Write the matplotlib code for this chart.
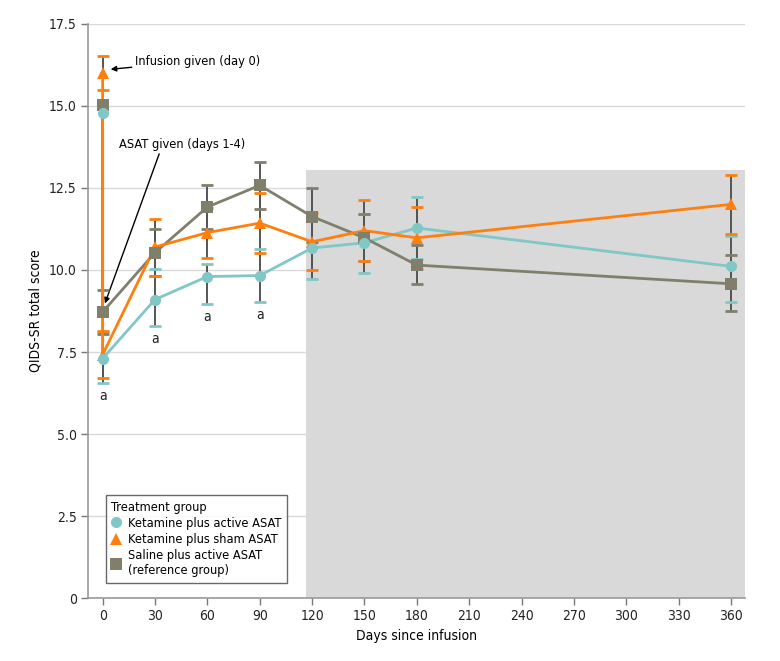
import numpy as np
import matplotlib
matplotlib.use('Agg')
import matplotlib.pyplot as plt

plt.rcParams['font.family'] = ['DejaVu Sans']
plt.rcParams['font.stretch'] = 'condensed'

# Days of assessment (first two points both at day 0: before infusion and after ASAT)
days = [0, 0, 30, 60, 90, 120, 150, 180, 360]

# Ketamine plus active ASAT
teal_mean = [14.8, 7.3, 9.1, 9.8, 9.83, 10.67, 10.83, 11.28, 10.11]
teal_lo = [np.nan, 6.55, 8.29, 8.96, 9.02, 9.74, 9.92, 10.33, 9.03]
teal_hi = [np.nan, 8.1, 10.03, 10.18, 10.64, 11.6, 11.72, 12.23, 11.04]

# Ketamine plus sham ASAT
orange_mean = [16.02, 7.42, 10.7, 11.14, 11.43, 10.86, 11.2, 10.98, 12.0]
orange_lo = [15.49, 6.7, 9.83, 10.38, 10.52, 9.99, 10.26, 10.03, 11.1]
orange_hi = [16.53, 8.14, 11.56, 11.9, 12.34, 11.73, 12.13, 11.93, 12.9]

# Saline plus active ASAT (reference group)
gray_mean = [15.02, 8.72, 10.53, 11.92, 12.58, 11.63, 10.98, 10.15, 9.58]
gray_lo = [np.nan, 8.05, 9.83, 11.26, 11.87, 10.86, 10.26, 9.57, 8.75]
gray_hi = [np.nan, 9.39, 11.24, 12.6, 13.29, 12.51, 11.71, 10.75, 10.45]

sig_idx = [1, 2, 3, 4]  # points marked "a"
shade_start, shade_top = 116.5, 13.05

yticks = [0, 2.5, 5.0, 7.5, 10.0, 12.5, 15.0, 17.5]
ytick_labels = ['0', '2.5', '5.0', '7.5', '10.0', '12.5', '15.0', '17.5']
xticks = list(range(0, 361, 30))

TEAL = '#80c7c5'
ORANGE = '#ff7f0e'
GRAY = '#807f6b'
ERR = '#555555'
FS = 10
FS_TXT = 9.2

fig = plt.figure(figsize=(7.8, 6.61), dpi=100)
ax = fig.add_axes([0.1128, 0.0953, 0.8422, 0.8684])

ax.set_xlim(-8.4, 368)
ax.set_ylim(0, 17.5)

ax.set_axisbelow(True)
ax.yaxis.grid(True, color='#d9d9d9', linewidth=1)
ax.fill_between([shade_start, 368], 0, shade_top, color='#d9d9d9', zorder=1, linewidth=0)

# (values, lo, hi, colour, marker, label, line zorder, marker zorder, marker size)
series = [
    (teal_mean, teal_lo, teal_hi, TEAL, 'o', 'Ketamine plus active ASAT', 4.0, 5.2, 8),
    (gray_mean, gray_lo, gray_hi, GRAY, 's', 'Saline plus active ASAT\n(reference group)', 4.1, 5.1, 8),
    (orange_mean, orange_lo, orange_hi, ORANGE, '^', 'Ketamine plus sham ASAT', 4.2, 5.0, 9),
]

handles = {}
for mean, lo, hi, col, mk, lab, zl, zm, ms in series:
    lo = np.array(lo)
    hi = np.array(hi)
    ok = ~np.isnan(lo)
    dx = np.array(days)[ok]
    ax.vlines(dx, lo[ok], hi[ok], color=ERR, linewidth=1.4, zorder=3)
    ax.plot(dx, lo[ok], linestyle='none', marker='_', markersize=9, markeredgewidth=2, color=col, zorder=3.5)
    ax.plot(dx, hi[ok], linestyle='none', marker='_', markersize=9, markeredgewidth=2, color=col, zorder=3.5)
    ax.plot(days, mean, color=col, linewidth=2, zorder=zl)
    h, = ax.plot(days, mean, linestyle='none', color=col, marker=mk, markersize=ms,
                 markeredgewidth=0, label=lab, zorder=zm)
    handles[lab] = h

for i in sig_idx:
    ax.annotate('a', (days[i], teal_lo[i]), xytext=(0, -4), textcoords='offset points',
                ha='center', va='top', fontsize=FS, color='#222222')

ax.annotate('Infusion given (day 0)', xy=(4.6, 16.12), xytext=(18.3, 16.37),
            fontsize=FS_TXT, va='center', ha='left',
            arrowprops=dict(arrowstyle='-|>', color='black', lw=1, shrinkA=0, shrinkB=0,
                            mutation_scale=8))
ax.annotate('ASAT given (days 1-4)', xy=(1.3, 8.98), xytext=(9.4, 13.84),
            fontsize=FS_TXT, va='center', ha='left')
ax.annotate('', xy=(1.3, 8.98), xytext=(32.4, 13.54),
            arrowprops=dict(arrowstyle='-|>', color='black', lw=1, shrinkA=0, shrinkB=0,
                            mutation_scale=8))

ax.set_yticks(yticks)
ax.set_yticklabels(ytick_labels)
ax.set_xticks(xticks)
ax.tick_params(axis='both', labelsize=FS, color='#777777', length=5, width=1,
               labelcolor='#222222', pad=3)
for s in ['top', 'right']:
    ax.spines[s].set_visible(False)
for s in ['left', 'bottom']:
    ax.spines[s].set_color('#999999')
    ax.spines[s].set_linewidth(1.2)

ax.set_ylabel('QIDS-SR total score', fontsize=FS, labelpad=5)
ax.set_xlabel('Days since infusion', fontsize=FS, labelpad=4)

order = ['Ketamine plus active ASAT', 'Ketamine plus sham ASAT', 'Saline plus active ASAT\n(reference group)']
leg = ax.legend([handles[k] for k in order], order, title='Treatment group', loc='lower left',
                bbox_to_anchor=(0.017, 0.015), fontsize=FS_TXT, title_fontsize=FS_TXT,
                frameon=True, fancybox=False, edgecolor='#444444', handlelength=0.8,
                handletextpad=0.5, borderpad=0.45, labelspacing=0.25)
leg._legend_box.align = 'left'
leg.get_frame().set_linewidth(1)

fig.savefig('out.png', dpi=100)
